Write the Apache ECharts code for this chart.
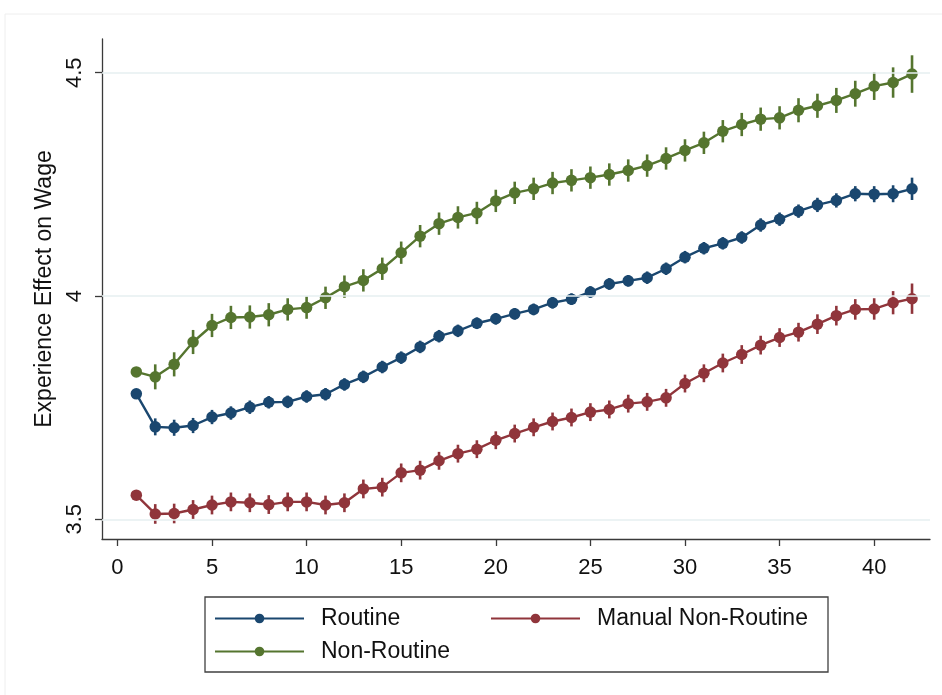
<!DOCTYPE html>
<html>
<head>
<meta charset="utf-8">
<title>Experience Effect on Wage</title>
<script src="https://cdn.jsdelivr.net/npm/echarts@6/dist/echarts.min.js"></script>
<style>
  html, body { margin: 0; padding: 0; background: #ffffff; }
  #chart { width: 942px; height: 695px; }
</style>
</head>
<body>
<div id="chart"></div>
<script>
// Years of experience
const experience = [1,2,3,4,5,6,7,8,9,10,11,12,13,14,15,16,17,18,19,20,21,
  22,23,24,25,26,27,28,29,30,31,32,33,34,35,36,37,38,39,40,41,42];

// Point estimates by occupation group
const routine = [3.781,3.707,3.705,3.710,3.729,3.738,3.751,3.762,3.763,3.775,3.780,
  3.802,3.819,3.841,3.862,3.886,3.910,3.922,3.939,3.949,3.960,3.970,3.985,3.993,
  4.009,4.027,4.034,4.041,4.061,4.087,4.107,4.118,4.131,4.159,4.172,4.190,4.204,
  4.214,4.229,4.228,4.229,4.240];
const manualNonRoutine = [3.554,3.512,3.513,3.522,3.532,3.539,3.537,3.533,3.539,3.539,
  3.532,3.537,3.568,3.572,3.604,3.610,3.631,3.647,3.657,3.677,3.692,3.706,3.719,
  3.728,3.740,3.746,3.759,3.763,3.772,3.804,3.827,3.850,3.869,3.890,3.907,3.919,
  3.937,3.956,3.970,3.971,3.985,3.994];
const nonRoutine = [3.830,3.819,3.847,3.897,3.934,3.952,3.953,3.958,3.970,3.974,3.996,
  4.021,4.035,4.061,4.097,4.134,4.162,4.176,4.186,4.213,4.231,4.240,4.253,4.259,
  4.265,4.272,4.281,4.292,4.308,4.326,4.343,4.369,4.384,4.396,4.399,4.416,4.426,
  4.438,4.453,4.470,4.478,4.497];

// Half-widths of the confidence intervals (first year is the reference, no interval)
const routineCI = [0,0.019,0.018,0.017,0.016,0.015,0.015,0.014,0.014,0.014,0.014,0.014,
  0.014,0.014,0.014,0.014,0.014,0.014,0.013,0.013,0.013,0.013,0.013,0.013,0.013,0.013,
  0.013,0.014,0.014,0.014,0.014,0.014,0.014,0.015,0.015,0.015,0.016,0.016,0.017,0.018,
  0.019,0.025];
const manualNonRoutineCI = [0,0.022,0.022,0.021,0.021,0.021,0.021,0.021,0.021,0.021,0.021,
  0.021,0.021,0.021,0.021,0.021,0.020,0.020,0.020,0.020,0.020,0.020,0.020,0.020,0.020,
  0.020,0.020,0.020,0.020,0.020,0.020,0.021,0.021,0.021,0.021,0.021,0.022,0.022,0.023,
  0.024,0.026,0.034];
const nonRoutineCI = [0,0.028,0.027,0.027,0.026,0.026,0.026,0.026,0.025,0.025,0.025,0.025,
  0.025,0.025,0.025,0.025,0.025,0.025,0.025,0.025,0.025,0.025,0.025,0.025,0.025,0.025,
  0.025,0.025,0.025,0.025,0.025,0.025,0.026,0.026,0.026,0.027,0.027,0.028,0.029,0.031,
  0.034,0.042];

const xTicks = [0,5,10,15,20,25,30,35,40];
const yTicks = [3.5,4,4.5];

const FONT = 'Arial, "Liberation Sans", Helvetica, sans-serif';
const TEXT_COLOR = '#111111';
const AXIS_COLOR = '#3a3a3a';
const GRID_COLOR = '#e6eff1';

const groups = [
  { name: 'Routine', values: routine, ci: routineCI, color: '#1a476f' },
  { name: 'Manual Non-Routine', values: manualNonRoutine, ci: manualNonRoutineCI, color: '#90353b' },
  { name: 'Non-Routine', values: nonRoutine, ci: nonRoutineCI, color: '#55752f' }
];

const series = [];

// Horizontal gridlines at the labelled y values
series.push({
  type: 'line',
  data: [],
  silent: true,
  z: 0,
  markLine: {
    silent: true,
    symbol: 'none',
    label: { show: false },
    lineStyle: { color: GRID_COLOR, width: 1.5, type: 'solid' },
    data: yTicks.map(v => ({ yAxis: v }))
  }
});

groups.forEach(g => {
  // Vertical interval bars
  series.push({
    type: 'custom',
    name: g.name + ' CI',
    z: 2,
    silent: true,
    data: experience.map((x, i) => [x, g.values[i] - g.ci[i], g.values[i] + g.ci[i]]),
    renderItem: function (params, api) {
      const lo = api.coord([api.value(0), api.value(1)]);
      const hi = api.coord([api.value(0), api.value(2)]);
      return {
        type: 'line',
        shape: { x1: lo[0], y1: lo[1], x2: hi[0], y2: hi[1] },
        style: { stroke: g.color, lineWidth: 2.6 }
      };
    }
  });
  // Connected point estimates
  series.push({
    type: 'line',
    name: g.name,
    z: 3,
    data: experience.map((x, i) => [x, g.values[i]]),
    symbol: 'circle',
    symbolSize: 11.5,
    showSymbol: true,
    itemStyle: { color: g.color },
    lineStyle: { color: g.color, width: 2.4 },
    emphasis: { disabled: true },
    animation: false
  });
});

const legendCommon = {
  orient: 'horizontal',
  padding: 0,
  itemWidth: 89,
  itemHeight: 12,
  selectedMode: false,
  textStyle: { fontFamily: FONT, fontSize: 23, color: TEXT_COLOR, padding: [0, 0, 0, 12] }
};

const option = {
  backgroundColor: '#ffffff',
  animation: false,
  textStyle: { fontFamily: FONT },
  grid: { left: 102, top: 39, right: 12, bottom: 156, containLabel: false },
  xAxis: {
    type: 'value',
    min: -0.814,
    max: 42.95,
    axisLine: { show: true, onZero: false, lineStyle: { color: AXIS_COLOR, width: 1.3 } },
    axisTick: { show: true, length: 7, customValues: xTicks, lineStyle: { color: AXIS_COLOR, width: 1.3 } },
    axisLabel: { customValues: xTicks, fontFamily: FONT, fontSize: 22, color: TEXT_COLOR, margin: 18 },
    splitLine: { show: false }
  },
  yAxis: {
    type: 'value',
    min: 3.4559,
    max: 4.5755,
    name: 'Experience Effect on Wage',
    nameLocation: 'middle',
    nameRotate: 90,
    nameGap: 42,
    nameTextStyle: { fontFamily: FONT, fontSize: 23, color: TEXT_COLOR },
    axisLine: { show: true, onZero: false, lineStyle: { color: AXIS_COLOR, width: 1.3 } },
    axisTick: { show: true, length: 7, customValues: yTicks, lineStyle: { color: AXIS_COLOR, width: 1.3 } },
    axisLabel: {
      customValues: yTicks, rotate: 90, fontFamily: FONT, fontSize: 22, color: TEXT_COLOR, margin: 16,
      formatter: v => String(v)
    },
    splitLine: { show: false }
  },
  legend: [
    Object.assign({}, legendCommon, { data: ['Routine'], left: 214, top: 607 }),
    Object.assign({}, legendCommon, { data: ['Manual Non-Routine'], left: 490, top: 607 }),
    Object.assign({}, legendCommon, { data: ['Non-Routine'], left: 214, top: 640 })
  ],
  graphic: [
    {
      type: 'rect',
      silent: true,
      shape: { x: 5, y: 14, width: 960, height: 700 },
      style: { fill: 'none', stroke: '#eeeeee', lineWidth: 1 },
      z: -10
    },
    {
      type: 'rect',
      silent: true,
      shape: { x: 205, y: 597, width: 623, height: 75 },
      style: { fill: 'none', stroke: '#404040', lineWidth: 1.3 }
    }
  ],
  series: series
};

const chart = echarts.init(document.getElementById('chart'), null, { renderer: 'canvas' });
chart.setOption(option);
</script>
</body>
</html>
